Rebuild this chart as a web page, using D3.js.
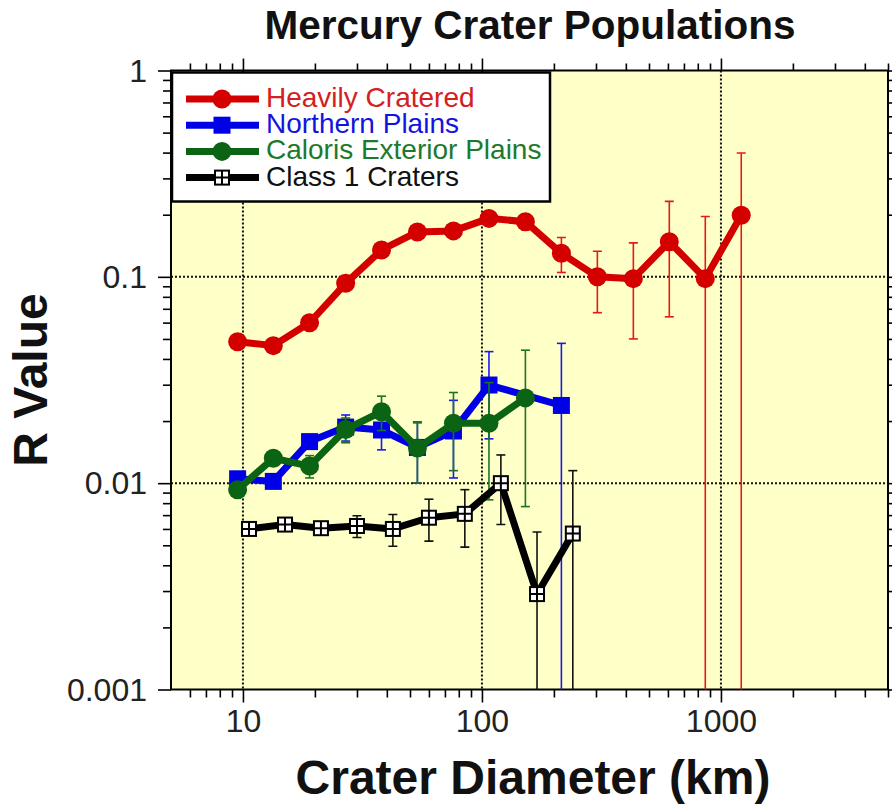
<!DOCTYPE html>
<html>
<head>
<meta charset="utf-8">
<script src="https://cdn.jsdelivr.net/npm/d3@7"></script>
<style>
	body { margin: 0; background: #fff; }
	svg { display: block; font-family: 'Liberation Sans', Arial, sans-serif; }
</style>
</head>
<body>
<div id="chart"></div>
<script>
// crater diameters (km) at bin centres
const heavilyD = [9.5, 13.4, 19, 26.9, 38, 53.7, 76, 107, 152, 215, 304, 430, 608, 860, 1216];
const heavilyR = [0.0485, 0.0464, 0.0599, 0.093, 0.135, 0.165, 0.167, 0.192, 0.185, 0.130, 0.100, 0.098, 0.148, 0.098, 0.199];
const heavilyErr = [0.002, 0.002, 0.003, 0.004, 0.006, 0.008, 0.009, 0.012, 0.016, 0.025, 0.033, 0.048, 0.084, 0.098, 0.199];

const northD = [9.5, 13.4, 19, 26.9, 38, 53.7, 76, 107, 215];
const northR = [0.0105, 0.0102, 0.0159, 0.0187, 0.0181, 0.0149, 0.0179, 0.0299, 0.0238];
const northErr = [0.0005, 0.0006, 0.0012, 0.0027, 0.0036, 0.0049, 0.0073, 0.0135, 0.0238];

const calorisD = [9.5, 13.4, 19, 26.9, 38, 53.7, 76, 107, 152];
const calorisR = [0.0093, 0.0132, 0.0121, 0.0182, 0.0222, 0.0148, 0.0195, 0.0195, 0.0259];
const calorisErr = [0.0005, 0.0008, 0.0015, 0.0025, 0.0042, 0.0048, 0.008, 0.0112, 0.0182];

const class1D = [10.6, 15, 21.2, 30, 42.4, 60, 84.8, 120, 170, 240];
const class1R = [0.006, 0.0063, 0.00605, 0.0062, 0.006, 0.0068, 0.0071, 0.01, 0.0029, 0.0057];
const class1Err = [0.0003, 0.0003, 0.0004, 0.00075, 0.00105, 0.00156, 0.0022, 0.0037, 0.0029, 0.0058];

const xMajor = [10, 100, 1000];
const xMinor = [6, 7, 8, 9, 20, 30, 40, 50, 60, 70, 80, 90, 200, 300, 400, 500, 600, 700, 800, 900, 2000, 3000, 4000, 5000];
const yMajor = [0.001, 0.01, 0.1, 1];
const yMinor = [0.002, 0.003, 0.004, 0.005, 0.006, 0.007, 0.008, 0.009,
	0.02, 0.03, 0.04, 0.05, 0.06, 0.07, 0.08, 0.09,
	0.2, 0.3, 0.4, 0.5, 0.6, 0.7, 0.8, 0.9];

const legendNames = ['Heavily Cratered', 'Northern Plains', 'Caloris Exterior Plains', 'Class 1 Craters'];

const width = 892;
const height = 808;
const plot = { left: 171, right: 888, top: 70.5, bottom: 689.5 };

const x = d3.scaleLog().domain([5, 5000]).range([plot.left, plot.right]);
const y = d3.scaleLog().domain([0.001, 1]).range([plot.bottom, plot.top]).clamp(true);

const series = [
	{ name: legendNames[0], d: heavilyD, r: heavilyR, e: heavilyErr, line: '#d40000', err: '#e81818', text: '#d42020', marker: 'circle' },
	{ name: legendNames[1], d: northD, r: northR, e: northErr, line: '#0000e6', err: '#1a1aee', text: '#1414e0', marker: 'square' },
	{ name: legendNames[2], d: calorisD, r: calorisR, e: calorisErr, line: '#0b6414', err: '#1a7424', text: '#1c7a2c', marker: 'circle' },
	{ name: legendNames[3], d: class1D, r: class1R, e: class1Err, line: '#000', err: '#111', text: '#111', marker: 'box' }
];

const svg = d3.select('#chart')
	.append('svg')
	.attr('width', width)
	.attr('height', height);

svg.append('defs')
	.append('clipPath')
	.attr('id', 'plotClip')
	.append('rect')
	.attr('x', plot.left)
	.attr('y', plot.top)
	.attr('width', plot.right - plot.left)
	.attr('height', plot.bottom - plot.top);

// background
svg.append('rect')
	.attr('x', plot.left)
	.attr('y', plot.top)
	.attr('width', plot.right - plot.left)
	.attr('height', plot.bottom - plot.top)
	.attr('fill', '#ffffc8');

// dotted grid
const grid = svg.append('g');
grid.selectAll('line.gx')
	.data(xMajor)
	.enter()
	.append('line')
	.attr('x1', (d) => x(d))
	.attr('x2', (d) => x(d))
	.attr('y1', plot.top)
	.attr('y2', plot.bottom);
grid.selectAll('line.gy')
	.data([0.01, 0.1])
	.enter()
	.append('line')
	.attr('x1', plot.left)
	.attr('x2', plot.right)
	.attr('y1', (d) => y(d))
	.attr('y2', (d) => y(d));
grid.selectAll('line')
	.attr('stroke', '#111')
	.attr('stroke-width', 2)
	.attr('stroke-dasharray', '2,2');

// axes on all four sides, outward ticks
function addAxis (axisFn, scale, values, size, transform, labels) {
	const g = svg.append('g')
		.attr('transform', transform)
		.call(axisFn(scale)
			.tickValues(values)
			.tickSize(size)
			.tickSizeOuter(0)
			.tickPadding(10)
			.tickFormat(labels ? (d) => d3.format('~g')(d) : ''));
	g.select('.domain').remove();
	g.selectAll('.tick line').attr('stroke', '#000').attr('stroke-width', 1.6);
	g.selectAll('.tick text')
		.attr('fill', '#222')
		.style('font-size', '32px');
	return g;
}

addAxis(d3.axisBottom, x, xMinor, 8, `translate(0,${plot.bottom})`, false);
addAxis(d3.axisBottom, x, xMajor, 13, `translate(0,${plot.bottom})`, true)
	.selectAll('.tick text')
	.attr('y', 0)
	.attr('dy', 0)
	.attr('transform', 'translate(0,42)');
addAxis(d3.axisTop, x, xMinor, 7, `translate(0,${plot.top})`, false);
addAxis(d3.axisTop, x, xMajor, 12, `translate(0,${plot.top})`, false);
addAxis(d3.axisLeft, y, yMinor, 8, `translate(${plot.left},0)`, false);
addAxis(d3.axisLeft, y, yMajor, 13, `translate(${plot.left},0)`, true)
	.selectAll('.tick text')
	.attr('x', -24)
	.attr('dy', '0.33em');
addAxis(d3.axisRight, y, yMinor, 6, `translate(${plot.right},0)`, false);
addAxis(d3.axisRight, y, yMajor, 10, `translate(${plot.right},0)`, false);

// frame
svg.append('rect')
	.attr('x', plot.left)
	.attr('y', plot.top)
	.attr('width', plot.right - plot.left)
	.attr('height', plot.bottom - plot.top)
	.attr('fill', 'none')
	.attr('stroke', '#000')
	.attr('stroke-width', 2);

const dataG = svg.append('g').attr('clip-path', 'url(#plotClip)');

function drawMarker (g, type, cx, cy, color) {
	if (type === 'circle') {
		g.append('circle')
			.attr('cx', cx)
			.attr('cy', cy)
			.attr('r', 9.5)
			.attr('fill', color);
	} else if (type === 'square') {
		g.append('rect')
			.attr('x', cx - 8.5)
			.attr('y', cy - 8.5)
			.attr('width', 17)
			.attr('height', 17)
			.attr('fill', color);
	} else {
		g.append('rect')
			.attr('x', cx - 7)
			.attr('y', cy - 7)
			.attr('width', 14)
			.attr('height', 14)
			.attr('fill', '#fff')
			.attr('stroke', '#000')
			.attr('stroke-width', 2);
		g.append('path')
			.attr('d', `M${cx - 7},${cy}H${cx + 7}M${cx},${cy - 7}V${cy + 7}`)
			.attr('stroke', '#000')
			.attr('stroke-width', 2);
	}
}

const line = d3.line()
	.x((p) => x(p.d))
	.y((p) => y(p.r));

series.forEach((s) => {
	const pts = s.d.map((d, i) => ({ d, r: s.r[i], e: s.e[i] }));
	const g = dataG.append('g');

	// error bars
	pts.forEach((p) => {
		const lo = p.r - p.e;
		const yTop = y(p.r + p.e);
		const yBot = lo > 0.001 ? y(lo) : plot.bottom + 2;
		const cx = x(p.d);
		g.append('line')
			.attr('x1', cx).attr('x2', cx)
			.attr('y1', yTop).attr('y2', yBot)
			.attr('stroke', s.err)
			.attr('stroke-width', 1.6);
		g.append('line')
			.attr('x1', cx - 4.5).attr('x2', cx + 4.5)
			.attr('y1', yTop).attr('y2', yTop)
			.attr('stroke', s.err)
			.attr('stroke-width', 1.6);
		if (lo > 0.001) {
			g.append('line')
				.attr('x1', cx - 4.5).attr('x2', cx + 4.5)
				.attr('y1', yBot).attr('y2', yBot)
				.attr('stroke', s.err)
				.attr('stroke-width', 1.6);
		}
	});

	g.append('path')
		.datum(pts)
		.attr('d', line)
		.attr('fill', 'none')
		.attr('stroke', s.line)
		.attr('stroke-width', 7)
		.attr('stroke-linejoin', 'round');

	pts.forEach((p) => drawMarker(g, s.marker, x(p.d), y(p.r), s.line));
});

// legend
const legend = svg.append('g');
legend.append('rect')
	.attr('x', 172)
	.attr('y', 72.5)
	.attr('width', 378)
	.attr('height', 129)
	.attr('fill', '#fff')
	.attr('stroke', '#000')
	.attr('stroke-width', 2.5);

series.forEach((s, i) => {
	const ly = 99 + i * 26.2;
	legend.append('line')
		.attr('x1', 186).attr('x2', 259)
		.attr('y1', ly).attr('y2', ly)
		.attr('stroke', s.line)
		.attr('stroke-width', 7);
	drawMarker(legend, s.marker, 222, ly, s.line);
	legend.append('text')
		.attr('x', 266)
		.attr('y', ly + 8)
		.attr('fill', s.text)
		.style('font-size', '28px')
		.text(s.name);
});

// titles
svg.append('text')
	.attr('x', 530)
	.attr('y', 38.5)
	.attr('text-anchor', 'middle')
	.style('font-size', '40.5px')
	.style('font-weight', 'bold')
	.attr('fill', '#111')
	.text('Mercury Crater Populations');

svg.append('text')
	.attr('x', 533)
	.attr('y', 794)
	.attr('text-anchor', 'middle')
	.style('font-size', '48px')
	.style('font-weight', 'bold')
	.attr('fill', '#111')
	.text('Crater Diameter (km)');

svg.append('text')
	.attr('transform', 'translate(47,380) rotate(-90)')
	.attr('text-anchor', 'middle')
	.style('font-size', '48px')
	.style('font-weight', 'bold')
	.attr('fill', '#111')
	.text('R Value');
</script>
</body>
</html>
